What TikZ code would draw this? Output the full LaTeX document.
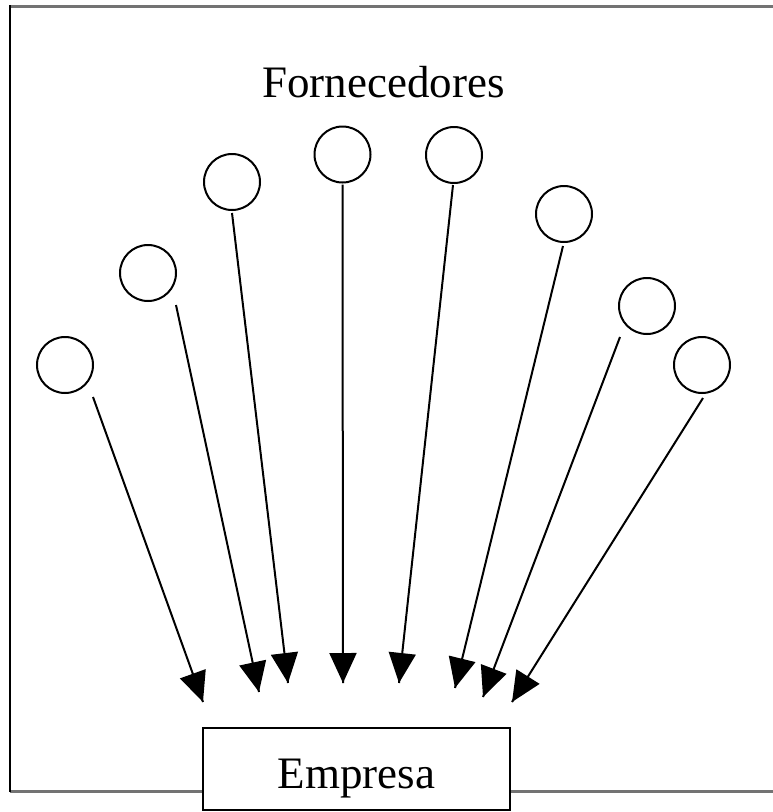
\documentclass[tikz,border=0pt]{standalone}
\usepackage{fontspec}
\setmainfont{Liberation Serif}
\usepackage{tikz}
\usetikzlibrary{arrows.meta}
\usetikzlibrary{decorations.markings}
\tikzset{feed/.style = {line width = 2pt,
                        decoration={markings,
                                    mark=at position 1 with {\arrow{Triangle[length=30pt, width=27pt]}}},
                        postaction={decorate}}}
\tikzset{supplier/.style = {draw, circle, line width = 2pt, inner sep = 0, minimum size = 56pt}}
\tikzset{firm/.style = {draw, fill = white, line width = 2pt, inner sep = 0,
                        minimum width = 307pt, minimum height = 82pt,
                        text height = 38pt, text depth = 0pt}}

\begin{document}
\begin{tikzpicture}[x = 1pt, y = -1pt, font = \fontsize{45}{54}\selectfont]
    \useasboundingbox (0, 0) rectangle (773, 812);
    \draw [black!55, line width = 3pt] (10, 6) -- (773, 6);
    \draw [black!55, line width = 3pt] (10, 791) -- (773, 791);
    \draw [line width = 2.5pt] (10, 5) -- (10, 792);

    \node [anchor = base] (title) at (383.5, 97) {Fornecedores};

    \node [supplier] (f1) at (65, 365) {};
    \node [supplier] (f2) at (148, 273) {};
    \node [supplier] (f3) at (232, 182) {};
    \node [supplier] (f4) at (342.5, 154.5) {};
    \node [supplier] (f5) at (454, 155) {};
    \node [supplier] (f6) at (564, 214) {};
    \node [supplier] (f7) at (647, 306) {};
    \node [supplier] (f8) at (702, 365) {};

    \coordinate (t1) at (203, 702);
    \coordinate (t2) at (259, 692);
    \coordinate (t3) at (288, 683);
    \coordinate (t4) at (343, 683);
    \coordinate (t5) at (399, 683);
    \coordinate (t6) at (455, 688);
    \coordinate (t7) at (483, 697);
    \coordinate (t8) at (512, 702);

    \draw [feed] (f1.center) ++(28, 32) -- (t1);
    \draw [feed] (f2.center) ++(28, 32) -- (t2);
    \draw [feed] (f3.center) ++(0, 31) -- (t3);
    \draw [feed] (f4.center) ++(0, 30) -- (t4);
    \draw [feed] (f5.center) ++(-1, 30) -- (t5);
    \draw [feed] (f6.center) ++(-1, 32) -- (t6);
    \draw [feed] (f7.center) ++(-27, 31) -- (t7);
    \draw [feed] (f8.center) ++(1, 33) -- (t8);

    \node [firm] (empresa) at (356.5, 769) {Empresa};
  \end{tikzpicture}
\end{document}
